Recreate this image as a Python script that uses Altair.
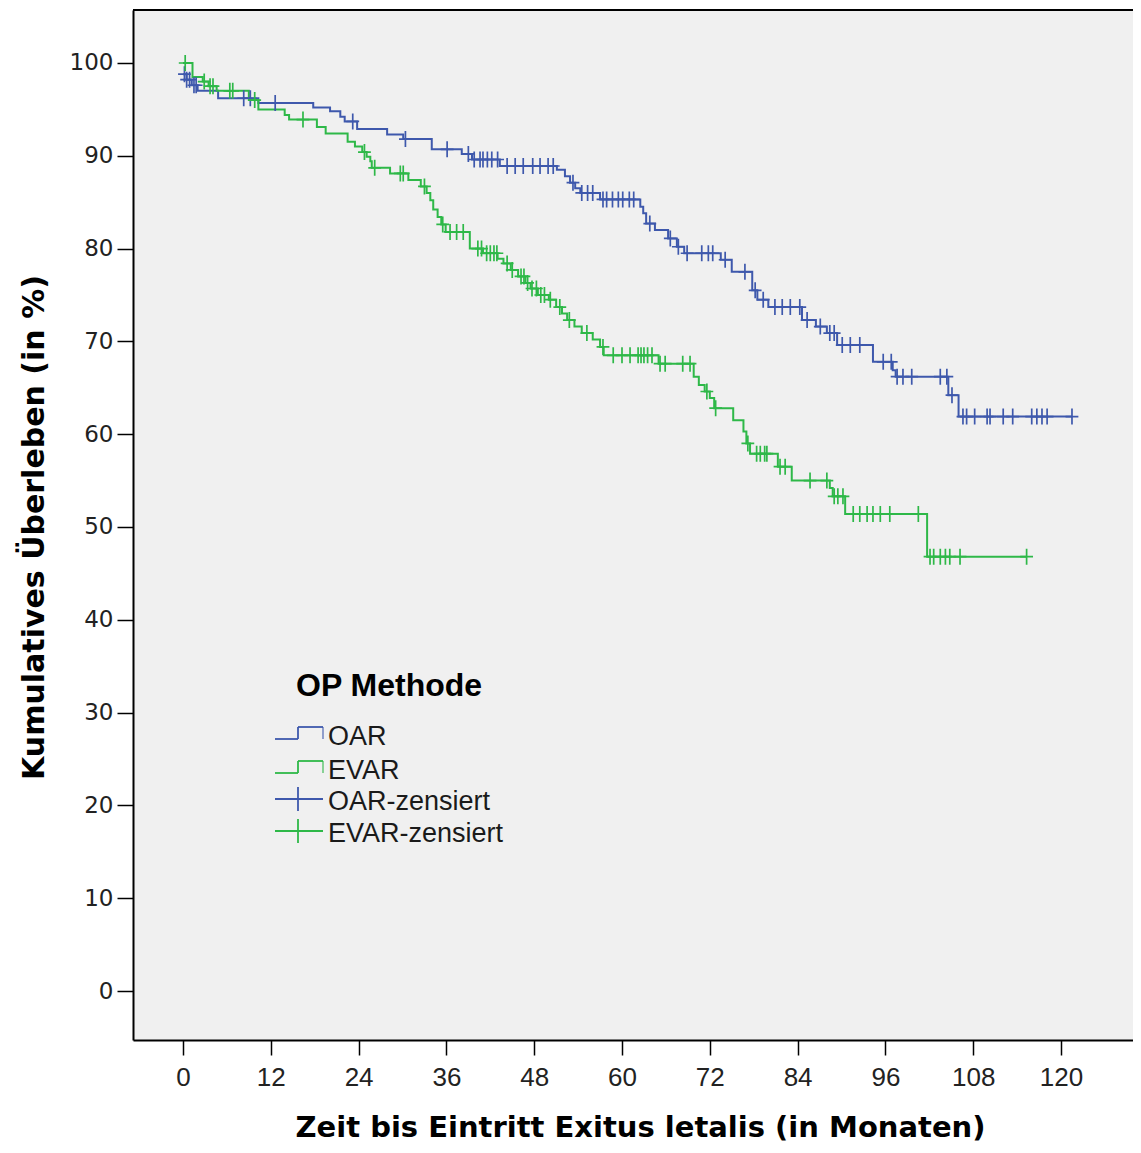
import altair as alt
import pandas as pd

# ---------------- data ----------------
groups = ["OAR", "EVAR"]
legend_labels = ["OAR", "EVAR", "OAR-zensiert", "EVAR-zensiert"]
x_ticks = [0, 12, 24, 36, 48, 60, 72, 84, 96, 108, 120]
y_ticks = [0, 10, 20, 30, 40, 50, 60, 70, 80, 90, 100]

oar_time = [0, 0.5, 1.2, 2.0, 4.8, 10.3, 17.8, 20.1, 21.5, 22.1, 23.8, 27.9, 30.1, 34.0,
            38.1, 39.5, 43.3, 51.1, 52.2, 52.9, 53.6, 54.3, 57.0, 62.5, 62.9, 63.3, 64.5,
            66.3, 67.5, 68.5, 73.5, 75.0, 77.8, 78.5, 80.0, 84.6, 86.5, 88.0, 89.4, 94.3,
            97.0, 97.4, 104.6, 106.0]
oar_surv = [98.8, 98.2, 97.6, 97.0, 96.2, 95.7, 95.2, 94.8, 94.2, 93.7, 92.9, 92.3, 91.8, 90.7,
            90.2, 89.6, 88.9, 88.5, 87.8, 87.1, 86.5, 86.0, 85.3, 84.5, 83.8, 82.7, 82.0,
            81.1, 80.2, 79.5, 78.8, 77.5, 75.5, 74.5, 73.7, 72.3, 71.6, 70.9, 69.6, 67.8,
            66.9, 66.2, 64.2, 61.9]
oar_cens = [0.2, 0.5, 0.9, 1.5, 1.8, 8.3, 9.2, 12.6, 23.2, 30.4, 36.1, 39.0, 39.8, 40.6, 41.0,
            41.6, 42.2, 43.0, 44.3, 45.4, 46.5, 47.8, 48.8, 49.9, 50.6, 53.3, 54.5, 55.3, 56.0,
            57.4, 57.9, 58.7, 59.5, 60.1, 61.0, 61.6, 63.8, 66.6, 67.7, 68.9, 70.9, 71.8, 72.4,
            74.1, 76.8, 78.2, 79.3, 80.9, 81.9, 83.0, 84.3, 85.3, 87.1, 88.4, 89.0, 90.1, 91.2,
            92.5, 95.7, 96.8, 97.6, 98.4, 99.6, 103.5, 104.4, 105.1, 106.6, 107.1, 108.2, 109.9,
            110.3, 112.1, 113.4, 116.0, 116.7, 117.4, 118.1, 121.5]

evar_time = [0, 1.3, 2.7, 3.5, 4.6, 9.0, 10.3, 13.9, 14.5, 18.3, 19.5, 22.5, 23.5, 24.5, 25.1,
             25.6, 25.8, 28.3, 30.8, 32.5, 33.3, 33.8, 34.2, 34.8, 35.3, 35.9, 39.2, 41.0, 43.0,
             43.8, 44.8, 45.8, 46.8, 47.5, 48.5, 50.0, 51.0, 51.8, 52.5, 53.5, 54.5, 56.0, 57.0,
             57.5, 65.0, 69.8, 70.5, 71.3, 72.0, 72.6, 75.2, 76.6, 77.0, 77.5, 81.3, 83.2, 88.4,
             88.8, 90.5, 101.7]
evar_surv = [100.0, 98.5, 98.0, 97.5, 97.0, 96.0, 95.0, 94.4, 93.9, 93.1, 92.4, 91.5, 91.0, 90.4,
             89.9, 89.4, 88.7, 88.1, 87.4, 86.7, 86.0, 85.2, 84.2, 83.4, 82.6, 81.8, 80.0, 79.5,
             78.9, 78.4, 77.7, 77.0, 76.3, 75.7, 75.0, 74.5, 73.7, 73.0, 72.3, 71.6, 70.9, 70.2,
             69.4, 68.5, 67.6, 66.2, 65.3, 64.6, 63.9, 62.8, 61.5, 60.3, 59.0, 57.9, 56.5, 55.0,
             54.2, 53.3, 51.4, 46.8]
evar_cens = [0.3, 2.9, 3.7, 4.1, 6.4, 6.8, 9.8, 16.4, 24.8, 26.2, 29.7, 30.1, 33.0, 35.5, 36.5,
             37.4, 38.3, 40.3, 40.8, 41.5, 42.0, 42.5, 42.9, 44.3, 45.0, 46.2, 46.6, 47.1, 47.7,
             48.3, 48.9, 49.4, 50.2, 51.5, 52.8, 55.2, 57.4, 58.8, 60.0, 61.1, 62.2, 62.6, 63.0,
             63.5, 64.1, 65.2, 65.9, 68.3, 69.3, 71.6, 72.8, 77.2, 78.4, 78.9, 79.5, 79.8, 81.6,
             82.3, 85.7, 88.0, 89.0, 89.5, 90.2, 91.6, 92.5, 93.5, 94.3, 95.3, 96.6, 100.5, 102.1,
             102.6, 103.5, 104.2, 104.8, 106.2, 115.3]

BLUE = "#3E58AC"
GREEN = "#2EB848"


def curve_value(times, survs, t):
    val = survs[0]
    for ti, si in zip(times, survs):
        if ti <= t:
            val = si
        else:
            break
    return val


line_rows = []
cens_rows = []
for g, tt, ss, cc in [("OAR", oar_time, oar_surv, oar_cens), ("EVAR", evar_time, evar_surv, evar_cens)]:
    for t, s in zip(tt, ss):
        line_rows.append({"group": g, "time": t, "surv": s})
    line_rows.append({"group": g, "time": cc[-1], "surv": ss[-1]})
    for t in cc:
        cens_rows.append({"group": g, "time": t, "surv": curve_value(tt, ss, t)})
lines_df = pd.DataFrame(line_rows)
cens_df = pd.DataFrame(cens_rows)

W, H = 1000, 1030
xscale = alt.Scale(domain=[-6.833, 129.84], nice=False, zero=False)
yscale = alt.Scale(domain=[-5.28, 105.71], nice=False, zero=False)
cscale = alt.Scale(domain=groups, range=[BLUE, GREEN])

xaxis = alt.Axis(values=x_ticks, title="Zeit bis Eintritt Exitus letalis (in Monaten)",
                 grid=False, tickSize=15, tickColor="#000", tickWidth=1.5,
                 domainColor="#000", domainWidth=2,
                 labelFont="Liberation Sans", labelFontSize=26, labelColor="#222", labelPadding=9,
                 titleFont="DejaVu Sans", titleFontWeight="bold", titleFontSize=29,
                 titleColor="#000", titleX=507, titleY=96, titleBaseline="alphabetic",
                 titleAnchor="middle", titleAlign="center")
yaxis = alt.Axis(values=y_ticks, title="Kumulatives Überleben (in %)",
                 grid=False, tickSize=16, tickColor="#000", tickWidth=1.5,
                 domainColor="#000", domainWidth=2,
                 labelFont="DejaVu Sans", labelFontSize=23, labelColor="#222", labelPadding=4,
                 titleFont="DejaVu Sans", titleFontWeight="bold", titleFontSize=30,
                 titleColor="#000", titleX=-99, titleY=517, titleAngle=270,
                 titleBaseline="middle", titleAlign="center")

lines = alt.Chart(lines_df).mark_line(interpolate="step-after", strokeWidth=2).encode(
    x=alt.X("time:Q", scale=xscale, axis=xaxis),
    y=alt.Y("surv:Q", scale=yscale, axis=yaxis),
    color=alt.Color("group:N", scale=cscale, legend=None),
    detail="group:N",
)

cens = alt.Chart(cens_df).mark_point(
    shape="M-0.8,0H0.8M0,-1V1", size=256, filled=False, strokeWidth=1.7, opacity=1
).encode(
    x=alt.X("time:Q", scale=xscale),
    y=alt.Y("surv:Q", scale=yscale),
    color=alt.Color("group:N", scale=cscale, legend=None),
)

one = pd.DataFrame({"k": [0]})


def seg(x1, y1, x2, y2, color, width=2.0, opacity=1.0):
    return alt.Chart(one).mark_rule(color=color, strokeWidth=width, opacity=opacity).encode(
        x=alt.value(x1), x2=alt.value(x2), y=alt.value(y1), y2=alt.value(y2))


def txt(text, x, y, size, weight="normal", color="#1a1a1a"):
    return alt.Chart(one).mark_text(text=text, font="Liberation Sans", fontSize=size,
                                    fontWeight=weight, color=color, align="left",
                                    baseline="alphabetic").encode(x=alt.value(x), y=alt.value(y))


deco = [seg(0, 0, W, 0, "#000", 2)]
# legend
deco.append(txt("OP Methode", 163, 686, 32, "bold", "#000"))
leg_colors = [BLUE, GREEN, BLUE, GREEN]
leg_base = [735, 769, 800, 832]
for i, (lab, col, yb) in enumerate(zip(legend_labels, leg_colors, leg_base)):
    deco.append(txt(lab, 195, yb, 27))
    if i < 2:
        lo = yb - 6
        hi = yb - 18
        deco += [seg(142, lo, 165, lo, col, 1.8), seg(165, lo, 165, hi, col, 1.8),
                 seg(165, hi, 190, hi, col, 1.8), seg(190, hi, 190, lo, col, 1.8, 0.6)]
    else:
        mid = yb - 11
        deco += [seg(142, mid, 190, mid, col, 1.8), seg(165, mid - 12, 165, mid + 12, col, 1.8)]

chart = alt.layer(lines, cens, *deco).properties(
    width=W, height=H,
    autosize=alt.AutoSizeParams(type="none"),
    padding={"left": 125, "top": 2, "right": 0, "bottom": 104},
    background="#ffffff",
).configure_view(fill="#f0f0f0", stroke=None)

chart.save("out.html", embed_options={"renderer": "svg", "actions": False})
